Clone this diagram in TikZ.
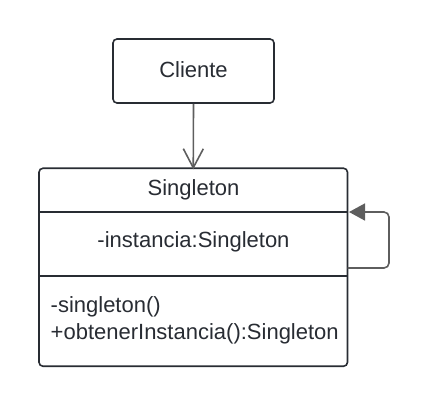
\documentclass[tikz,border=0pt]{standalone}
\usepackage{fontspec}
\setmainfont{Liberation Sans}
\usetikzlibrary{arrows.meta}
\definecolor{boxline}{HTML}{282C33}
\definecolor{conn}{HTML}{5E5E5E}
\definecolor{txt}{HTML}{282C33}
\tikzset{
  umlbox/.style={draw=boxline, line width=1.6pt, rounded corners=4pt, inner sep=0pt},
  lbl/.style={font=\fontsize{22}{26}\selectfont, text=txt, inner sep=0pt},
  divider/.style={draw=boxline, line width=1.6pt},
  assoc/.style={draw=conn, line width=1.6pt, -{Straight Barb[length=19pt,width=20pt,line width=1.6pt]}},
  selfloop/.style={draw=conn, line width=1.6pt, rounded corners=5pt, -{Triangle[length=16pt,width=17pt]}}
}
\begin{document}
\begin{tikzpicture}[x=1pt,y=-1pt]
\useasboundingbox (0,0) rectangle (430,408);
% Cliente
\node[umlbox, minimum width=161pt, minimum height=64pt] (cli) at (193.5,71) {};
\node[lbl] (clitext) at (193.5,70) {Cliente};
% Singleton class box
\node[umlbox, minimum width=308.5pt, minimum height=198pt] (sing) at (193.25,267.25) {};
\coordinate (d1w) at (39,212);
\coordinate (d1e) at (347.5,212);
\coordinate (d2w) at (39,276);
\coordinate (d2e) at (347.5,276);
\draw[divider] (d1w) -- (d1e);
\draw[divider] (d2w) -- (d2e);
\node[lbl] (name) at (193.5,189.5) {Singleton};
\node[lbl] (attr) at (193.5,242) {-instancia:Singleton};
\node[lbl, anchor=base west] (m1) at (50.5,312.5) {-singleton()};
\node[lbl, anchor=base west] (m2) at (50.5,339) {+obtenerInstancia():Singleton};
% association
\draw[assoc] (cli.south) -- ([yshift=-2pt]sing.north);
% self loop
\coordinate (ls) at (347.5,268);
\coordinate (lc1) at (389,268);
\coordinate (lc2) at (389,212);
\coordinate (le) at (349,212);
\draw[selfloop] (ls) -- (lc1) -- (lc2) -- (le);
\end{tikzpicture}
\end{document}
